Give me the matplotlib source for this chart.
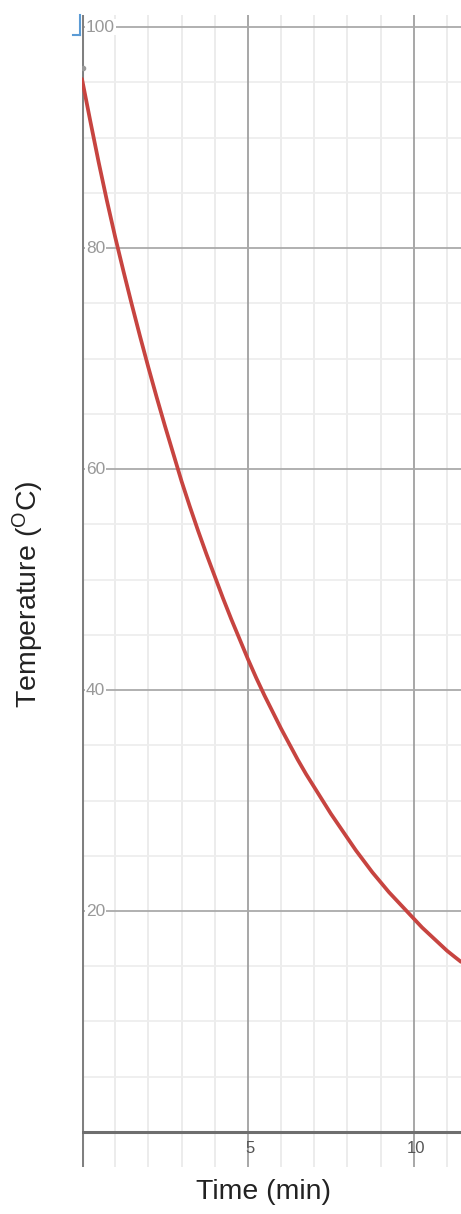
import matplotlib
matplotlib.use('Agg')
import matplotlib.pyplot as plt
from matplotlib.lines import Line2D

plt.rcParams['font.family'] = ['Liberation Sans', 'DejaVu Sans']
plt.rcParams['mathtext.fontset'] = 'custom'
plt.rcParams['mathtext.rm'] = 'Liberation Sans'

# values
time_min = [0, 0.25, 0.5, 0.75, 1, 1.25, 1.5, 1.75, 2, 2.25, 2.5, 2.75,
            3, 3.25, 3.5, 3.75, 4, 4.25, 4.5, 4.75, 5, 5.25, 5.5, 5.75,
            6, 6.25, 6.5, 6.75, 7, 7.25, 7.5, 7.75, 8, 8.25, 8.5, 8.75,
            9, 9.25, 9.5, 9.75, 10, 10.25, 10.5, 10.75, 11, 11.25, 11.42]
temp_c = [95.3, 91.5, 87.8, 84.3, 81.0, 77.9, 74.9, 72.0, 69.2, 66.5, 63.9,
          61.4, 58.9, 56.6, 54.4, 52.3, 50.3, 48.3, 46.4, 44.6, 42.8, 41.1,
          39.5, 38.0, 36.5, 35.1, 33.7, 32.4, 31.2, 30.0, 28.8, 27.7, 26.6,
          25.5, 24.5, 23.5, 22.6, 21.7, 20.9, 20.1, 19.3, 18.5, 17.8, 17.1,
          16.4, 15.8, 15.4]
x_ticks = [5, 10]
y_ticks = [20, 40, 60, 80, 100]
x_minor = [1, 2, 3, 4, 6, 7, 8, 9, 11]
y_minor = [5, 10, 15, 25, 30, 35, 45, 50, 55, 65, 70, 75, 85, 90, 95]

W, H = 461, 1214
fig = plt.figure(figsize=(W / 100, H / 100), dpi=100)
ax = fig.add_axes([82 / W, 1 - 1167 / H, (W - 82) / W, (1167 - 15) / H])
ax.set_xlim(0, 11.42)
ax.set_ylim(-3.17, 101.1)
ax.axis('off')

#--grid
for v in x_minor:
    ax.axvline(v, color='#ebebeb', lw=1.3, zorder=1)
for v in y_minor:
    ax.axhline(v, color='#eeeeee', lw=1.3, zorder=1)
for v in x_ticks:
    ax.axvline(v, color='#a0a0a0', lw=1.3, zorder=2)
for v in y_ticks:
    ax.axhline(v, color='#aaaaaa', lw=1.3, zorder=2)
ax.axvline(0, color='#808080', lw=2.2, zorder=3)
ax.axhline(0, color='#6e6e6e', lw=2.2, zorder=3)

#--tick labels
for v in y_ticks:
    ax.text(0.12, v, str(v), ha='left', va='center', fontsize=12.5,
            color='#999999', zorder=4,
            bbox=dict(facecolor='white', edgecolor='none', pad=0.5))
for v in x_ticks:
    ax.text(v + 0.05, -1.5, str(v), ha='center', va='center', fontsize=12,
            color='#555555', zorder=4)

#--curve
ax.plot(time_min, temp_c, color='#c74440', lw=2.7, zorder=5,
        solid_capstyle='round', solid_joinstyle='round')
ax.plot([0.02], [96.3], 'o', color='#999999', ms=3, zorder=4)

#--little selection mark top-left
fig.add_artist(Line2D([80 / W, 80 / W], [1 - 15 / H, 1 - 35 / H],
                      color='#5b9bd5', lw=1.5))
fig.add_artist(Line2D([73 / W, 80 / W], [1 - 35 / H, 1 - 35 / H],
                      color='#5b9bd5', lw=1.5))

#--axis titles
fig.text(263 / W, 1 - 1192 / H, 'Time (min)', ha='center', va='center',
         fontsize=20.5, color='#222222')
fig.text(28 / W, 1 - 594 / H, r'Temperature ($\mathregular{^{O}}$C)',
         ha='center', va='center', rotation=90, fontsize=20.5,
         color='#222222')

fig.savefig('out.png', dpi=100)
